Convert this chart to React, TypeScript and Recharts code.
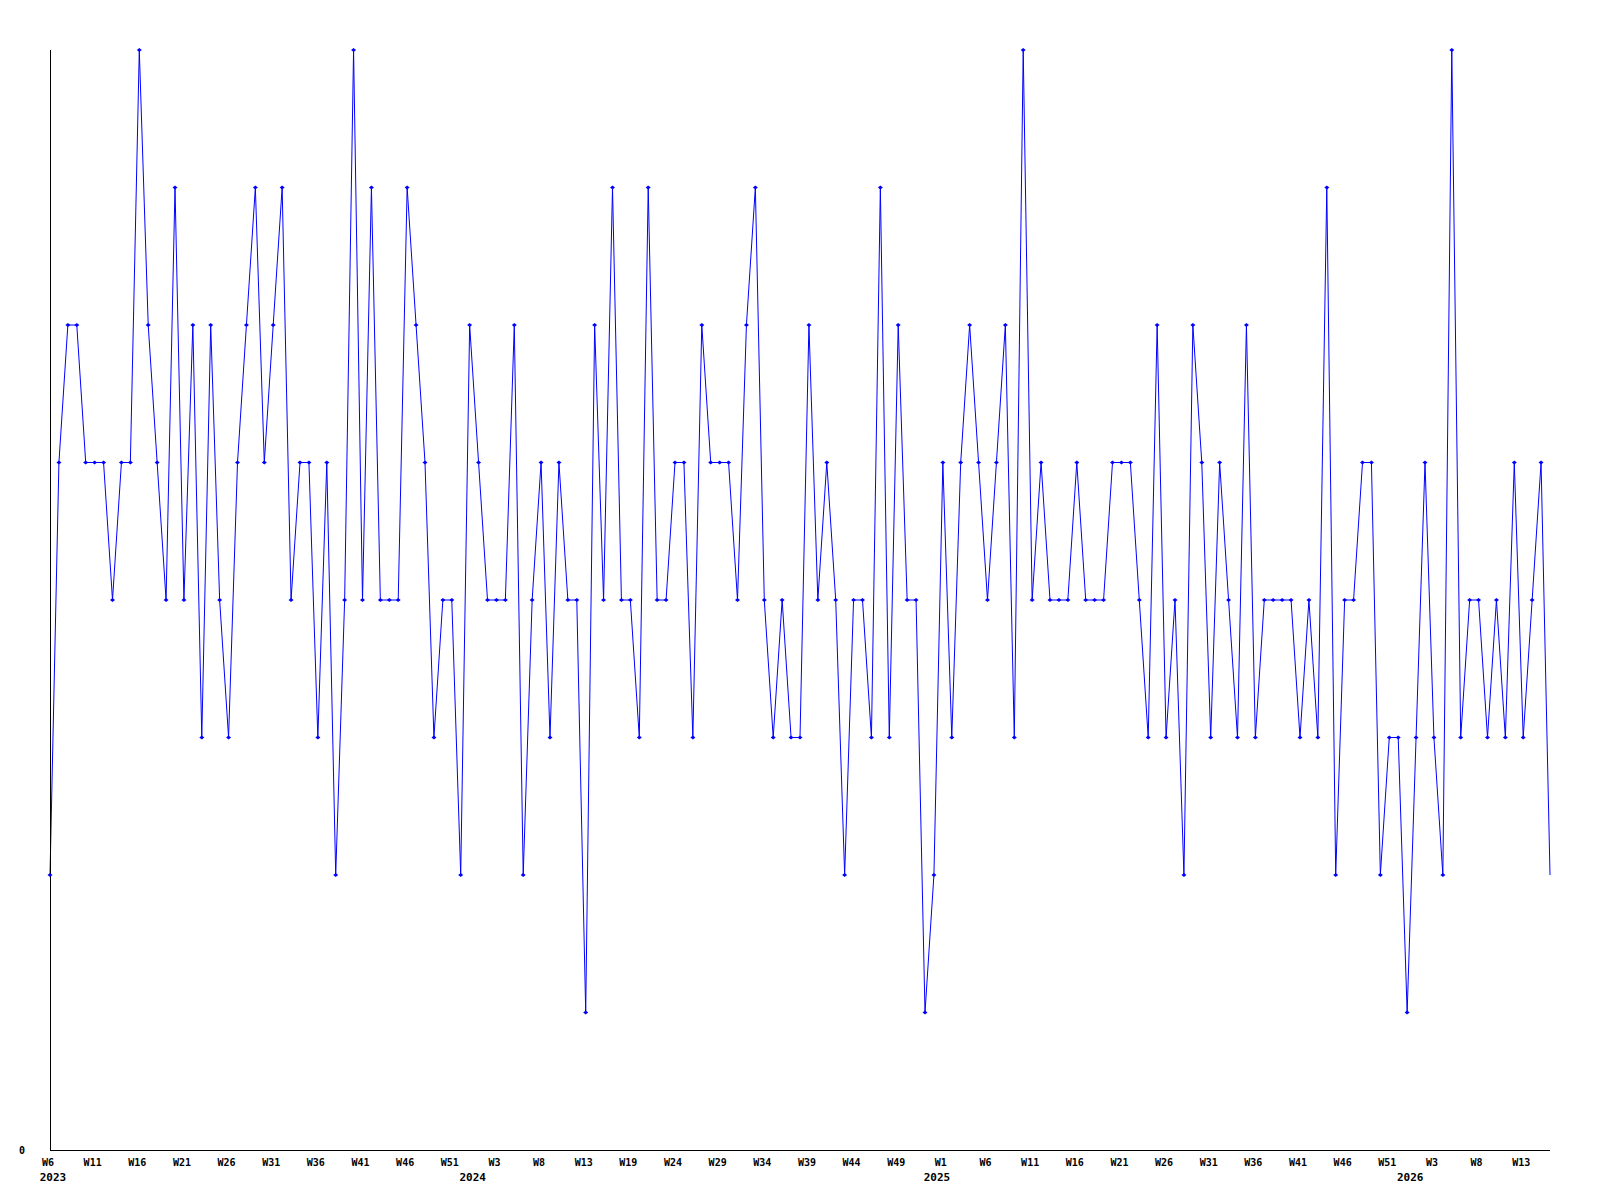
import { LineChart, Line, XAxis, YAxis } from "recharts";

// weekly counts, 2023 W6 .. 2026 W16 (one value per week)
const WEEKLY = [
  2, 5, 6, 6, 5, 5, 5, 4, 5, 5,
  8, 6, 5, 4, 7, 4, 6, 3, 6, 4,
  3, 5, 6, 7, 5, 6, 7, 4, 5, 5,
  3, 5, 2, 4, 8, 4, 7, 4, 4, 4,
  7, 6, 5, 3, 4, 4, 2, 6, 5, 4,
  4, 4, 6, 2, 4, 5, 3, 5, 4, 4,
  1, 6, 4, 7, 4, 4, 3, 7, 4, 4,
  5, 5, 3, 6, 5, 5, 5, 4, 6, 7,
  4, 3, 4, 3, 3, 6, 4, 5, 4, 2,
  4, 4, 3, 7, 3, 6, 4, 4, 1, 2,
  5, 3, 5, 6, 5, 4, 5, 6, 3, 8,
  4, 5, 4, 4, 4, 5, 4, 4, 4, 5,
  5, 5, 4, 3, 6, 3, 4, 2, 6, 5,
  3, 5, 4, 3, 6, 3, 4, 4, 4, 4,
  3, 4, 3, 7, 2, 4, 4, 5, 5, 2,
  3, 3, 1, 3, 5, 3, 2, 8, 3, 4,
  4, 3, 4, 3, 5, 3, 4, 5, 2,
];

// a week label every 5th point
const WEEK_TICKS = [
  "W6", "W11", "W16", "W21", "W26", "W31", "W36", "W41", "W46", "W51",
  "W3", "W8", "W13", "W19", "W24", "W29", "W34", "W39", "W44", "W49",
  "W1", "W6", "W11", "W16", "W21", "W26", "W31", "W36", "W41", "W46", "W51",
  "W3", "W8", "W13",
];
const TICK_STEP = 5;

// year names and the point where each one begins
const YEARS = ["2023", "2024", "2025", "2026"];
const YEAR_START = [0, 47, 99, 152];

const BLUE = "#0000ff";
const FONT = "'DejaVu Sans Mono', 'Liberation Mono', monospace";

const data = WEEKLY.map((v, i) => ({ i, v }));
const weekAt = new Map(WEEK_TICKS.map((w, k) => [k * TICK_STEP, w]));
const yearAt = new Map(YEAR_START.map((p, k) => [p, YEARS[k]]));
const allTicks = Array.from(new Set([...weekAt.keys(), ...yearAt.keys()])).sort((a, b) => a - b);

// eslint-disable-next-line @typescript-eslint/no-explicit-any
function WeekTick({ x, y, payload }: any) {
  const week = weekAt.get(payload.value);
  const year = yearAt.get(payload.value);
  return (
    <g>
      {week && (
        <text x={x - 2} y={y + 16} textAnchor="middle" fontFamily={FONT} fontWeight="bold" fontSize={10} fill="#000">
          {week}
        </text>
      )}
      {year && (
        <text x={x + 3} y={y + 31} textAnchor="middle" fontFamily={FONT} fontWeight="bold" fontSize={11} fill="#000">
          {year}
        </text>
      )}
    </g>
  );
}

// eslint-disable-next-line @typescript-eslint/no-explicit-any
function ZeroTick({ y, payload }: any) {
  return (
    <text x={25} y={y + 3.5} textAnchor="end" fontFamily={FONT} fontWeight="bold" fontSize={10} fill="#000">
      {payload.value}
    </text>
  );
}

// small diamond marker; the final point is drawn without one
// eslint-disable-next-line @typescript-eslint/no-explicit-any
function Marker(props: any) {
  const { cx, cy, index } = props;
  if (index === WEEKLY.length - 1) return <g key={index} />;
  return (
    <path
      key={index}
      d={`M${cx - 2.5},${cy}L${cx},${cy - 2}L${cx + 2.5},${cy}L${cx},${cy + 2}Z`}
      fill={BLUE}
    />
  );
}

export default function App() {
  return (
    <div style={{ position: "absolute", left: 0, top: 0, background: "#fff" }}>
      <LineChart width={1600} height={1200} data={data} margin={{ top: 50, right: 50, left: 0, bottom: 0 }}>
        <XAxis
          type="number"
          dataKey="i"
          domain={[0, WEEKLY.length - 1]}
          ticks={allTicks}
          interval={0}
          tick={<WeekTick />}
          tickLine={false}
          tickSize={0}
          tickMargin={0}
          axisLine={{ stroke: "#000", shapeRendering: "crispEdges" }}
          height={50}
        />
        <YAxis
          domain={[0, 8]}
          ticks={[0]}
          tick={<ZeroTick />}
          tickLine={false}
          tickSize={0}
          tickMargin={25}
          axisLine={{ stroke: "#000", shapeRendering: "crispEdges" }}
          width={50}
        />
        <Line
          type="linear"
          dataKey="v"
          stroke={BLUE}
          strokeWidth={1}
          dot={Marker}
          activeDot={false}
          isAnimationActive={false}
        />
      </LineChart>
    </div>
  );
}
